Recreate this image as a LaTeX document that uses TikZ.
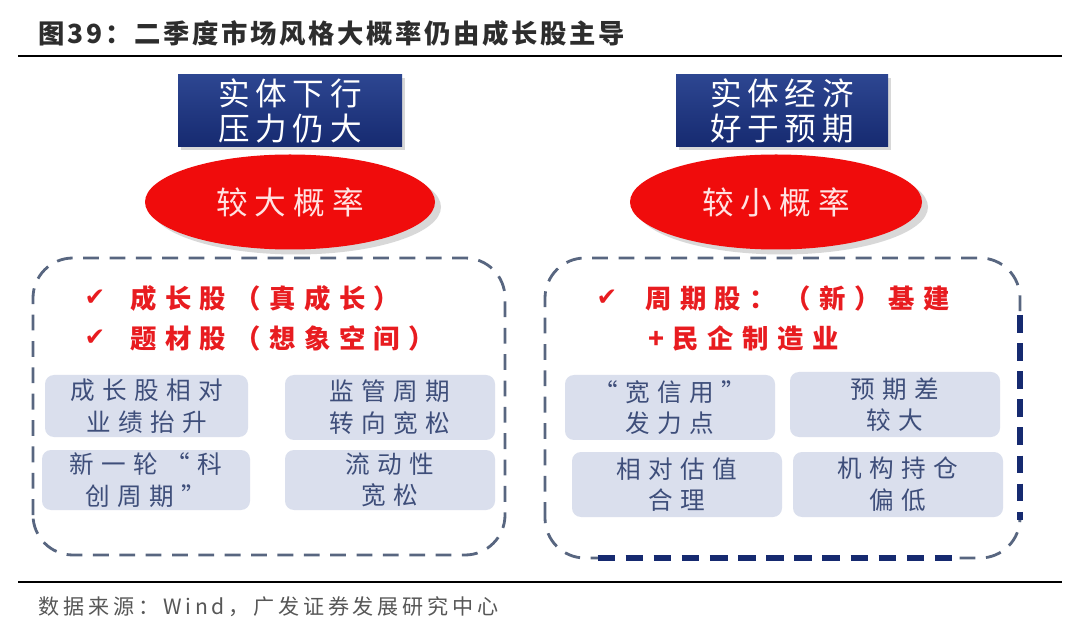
\documentclass[tikz,border=0pt]{standalone}
\usepackage{fontspec}
\setmainfont{Liberation Sans}
\newfontfamily\cjk{Noto Sans CJK SC}
\newfontfamily\symfont{DejaVu Sans}
\usetikzlibrary{shapes.geometric,shadows}
\definecolor{headnavy}{RGB}{22, 42, 112}
\definecolor{headnavytop}{RGB}{45, 70, 145}
\definecolor{oddsred}{RGB}{240, 12, 12}
\definecolor{oddstext}{RGB}{255, 226, 226}
\definecolor{dashgray}{RGB}{88, 102, 128}
\definecolor{infofill}{RGB}{218, 223, 237}
\definecolor{infotext}{RGB}{62, 78, 122}
\definecolor{tickred}{RGB}{232, 28, 32}
\definecolor{titlegray}{RGB}{45, 45, 45}

\begin{document}
\begin{tikzpicture}[font=\cjk,
    headbox/.style={rectangle, top color=headnavytop, bottom color=headnavy, text=white,
      minimum height=1.44cm, align=center, inner sep=0pt,
      drop shadow={shadow xshift=0.06cm, shadow yshift=-0.06cm, opacity=0.3},
      font=\cjk\fontsize{18}{20}\selectfont\addfontfeature{LetterSpace=18}},
    oddsoval/.style={ellipse, fill=oddsred, text=oddstext, minimum height=1.9cm, inner sep=0pt,
      drop shadow={shadow xshift=0.12cm, shadow yshift=-0.1cm, opacity=0.3},
      font=\cjk\fontsize{18}{20}\selectfont\addfontfeature{LetterSpace=22}},
    groupbox/.style={draw=dashgray, line width=1.6pt, dash pattern=on 9pt off 6pt, rounded corners=0.8cm},
    boldedge/.style={draw=headnavy, line width=3pt, dash pattern=on 10pt off 6pt,
      preaction={draw=white, line width=4pt, solid}},
    infobox/.style={rectangle, rounded corners=0.18cm, fill=infofill, text=infotext, align=center,
      inner sep=0pt, font=\cjk\fontsize{14}{18}\selectfont\addfontfeature{LetterSpace=30}},
    tickmark/.style={text=tickred, font=\symfont\fontsize{14}{16}\selectfont},
    tickline/.style={anchor=west, text=tickred, inner sep=0pt,
      font=\cjk\bfseries\fontsize{15}{16}\selectfont\addfontfeature{LetterSpace=32}}]
  \useasboundingbox (0, 0) rectangle (21.6, 12.7);
  \fill[white] (0, 0) rectangle (21.6, 12.7);

  % Title and rules
  \node[anchor=west, text=titlegray, font=\cjk\bfseries\fontsize{15}{16}\selectfont\addfontfeature{LetterSpace=10}] (title) at (0.65, 12.04) {图39：二季度市场风格大概率仍由成长股主导};
  \draw[line width=1.3pt] (0.36, 11.58) -- (21.24, 11.58);
  \draw[line width=1.3pt] (0.36, 1.06) -- (21.24, 1.06);
  \node[anchor=west, text=titlegray!80, font=\cjk\fontsize{12}{13}\selectfont\addfontfeature{LetterSpace=18}] (source) at (0.65, 0.56) {数据来源：Wind，广发证券发展研究中心};

  % Left panel: weak economy
  \node[headbox, minimum width=4.48cm] (lhead) at (5.8, 10.48) {实体下行\\压力仍大};
  \node[oddsoval, minimum width=5.8cm] (lodds) at (5.8, 8.66) {较大概率};
  \draw[groupbox] (0.66, 1.6) rectangle (10.1, 7.54);
  \node[tickmark] (ltick1) at (1.9, 6.74) {✔};
  \node[tickline] (lgrowth) at (2.6, 6.74) {成长股（真成长）};
  \node[tickmark] (ltick2) at (1.9, 5.94) {✔};
  \node[tickline] (ltheme) at (2.6, 5.94) {题材股（想象空间）};
  \node[infobox, minimum width=4.06cm, minimum height=1.24cm] (lperf) at (2.93, 4.58) {成长股相对\\业绩抬升};
  \node[infobox, minimum width=4.2cm, minimum height=1.3cm] (lregul) at (7.8, 4.55) {监管周期\\转向宽松};
  \node[infobox, minimum width=4.16cm, minimum height=1.2cm] (lcycle) at (2.92, 3.1) {新一轮“科\\创周期”};
  \node[infobox, minimum width=4.2cm, minimum height=1.2cm] (lliquid) at (7.8, 3.1) {流动性\\宽松};

  % Right panel: strong economy
  \node[headbox, minimum width=4.24cm] (rhead) at (15.64, 10.48) {实体经济\\好于预期};
  \node[oddsoval, minimum width=5.84cm] (rodds) at (15.52, 8.66) {较小概率};
  \draw[groupbox] (10.9, 1.54) rectangle (20.4, 7.54);
  \draw[boldedge] (20.4, 6.4) -- (20.4, 2.3);
  \draw[boldedge] (11.95, 1.54) -- (19.1, 1.54);
  \node[tickmark] (rtick1) at (12.14, 6.74) {✔};
  \node[tickline] (rcyclic) at (12.9, 6.74) {周期股：（新）基建};
  \node[tickline] (rprivate) at (12.96, 5.94) {+民企制造业};
  \node[infobox, minimum width=4.2cm, minimum height=1.3cm] (rcredit) at (13.4, 4.55) {“宽信用”\\发力点};
  \node[infobox, minimum width=4.2cm, minimum height=1.3cm] (rgap) at (17.9, 4.61) {预期差\\较大};
  \node[infobox, minimum width=4.2cm, minimum height=1.3cm] (rvalue) at (13.54, 3.01) {相对估值\\合理};
  \node[infobox, minimum width=4.2cm, minimum height=1.3cm] (rhold) at (17.96, 3.01) {机构持仓\\偏低};
\end{tikzpicture}
\end{document}
